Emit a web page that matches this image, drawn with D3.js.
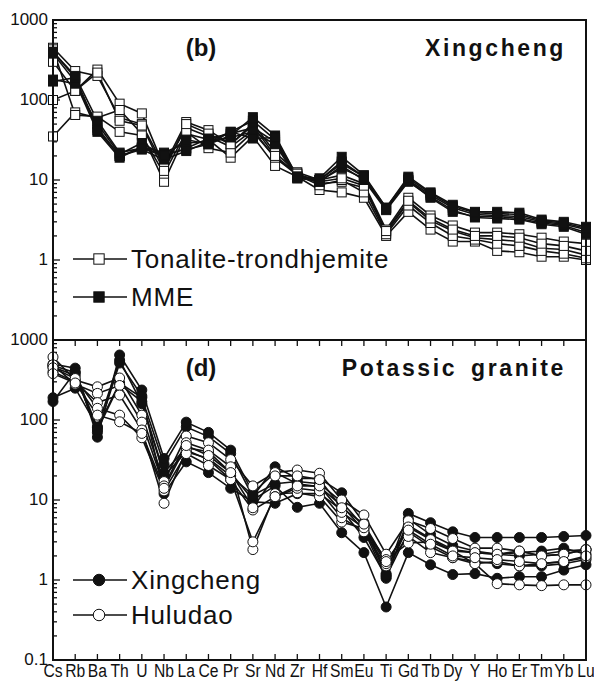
<!DOCTYPE html>
<html>
<head>
<meta charset="utf-8">
<script src="https://cdn.jsdelivr.net/npm/d3@7"></script>
<style>
  body { margin: 0; background: #fff; }
  text { font-family: "Liberation Sans", Arial, sans-serif; fill: #111; }
</style>
</head>
<body>
<svg id="chart" width="594" height="683"></svg>
<script>
var elements = ['Cs', 'Rb', 'Ba', 'Th', 'U', 'Nb', 'La', 'Ce', 'Pr', 'Sr', 'Nd', 'Zr', 'Hf',
    'Sm', 'Eu', 'Ti', 'Gd', 'Tb', 'Dy', 'Y', 'Ho', 'Er', 'Tm', 'Yb', 'Lu'];

// (b) Xingcheng - tonalite-trondhjemite (open squares)
var tonalite = [
    [450, 230, 200, 60, 50, 15, 53, 42, 28, 51, 22, 12.5, 10, 11.5, 9, 2.4, 6, 3.6, 2.7, 2.2, 2.2, 2.1, 1.9, 1.7, 1.6],
    [100, 130, 240, 90, 68, 14.6, 45, 35, 26, 42, 19, 12, 9, 9.5, 8, 2.2, 5.3, 3.1, 2.3, 1.9, 1.8, 1.7, 1.4, 1.35, 1.15],
    [35, 70, 60, 75, 38, 9.5, 38, 32, 19, 35, 15, 11, 7.5, 7, 6, 2.0, 4, 2.4, 1.7, 1.7, 1.3, 1.25, 1.1, 1.1, 1.0],
    [430, 65, 62, 40, 36, 12, 40, 25, 22, 40, 19, 11.5, 8.6, 10, 7, 2.1, 4.8, 2.9, 2.0, 1.8, 1.6, 1.5, 1.3, 1.2, 1.05],
    [300, 130, 220, 55, 48, 13, 50, 38, 28, 48, 20, 12, 9.5, 10.5, 8.5, 2.3, 5.5, 3.3, 2.4, 2.0, 2.0, 1.9, 1.6, 1.5, 1.3]
];
// (b) Xingcheng - MME (filled squares)
var mme = [
    [400, 190, 45, 20, 25, 21, 24, 28, 36, 61, 36, 11, 10.5, 19.5, 11.5, 4.5, 11, 7, 4.9, 4.0, 4.0, 3.9, 3.2, 3.0, 2.6],
    [380, 170, 40, 19, 26, 22, 29, 30, 40, 55, 32, 10.5, 10, 17, 11, 4.3, 10, 6.5, 4.5, 3.7, 3.6, 3.5, 3.0, 2.8, 2.4],
    [180, 160, 50, 21, 29, 20, 25, 33, 38, 45, 30, 11, 9.5, 15, 10, 4.2, 9.5, 6.2, 4.2, 3.4, 3.3, 3.2, 2.8, 2.6, 2.1],
    [170, 190, 42, 20, 24, 18, 23, 30, 34, 40, 28, 10.5, 9.8, 14, 10.5, 4.4, 9.8, 6.0, 4.0, 3.5, 3.5, 3.3, 2.9, 2.7, 2.2],
    [400, 200, 55, 22, 25, 20, 32, 28, 40, 33, 34, 11, 10, 16, 11, 4.5, 10.5, 6.8, 4.7, 3.9, 3.8, 3.7, 3.1, 2.9, 2.5]
];
// (d) Potassic granite - Xingcheng (filled circles)
var xingcheng = [
    [170, 400, 80, 290, 190, 28, 82, 62, 38, 11, 26, 18.6, 18.6, 12.3, 5.2, 1.2, 6.8, 5.2, 4.0, 3.4, 3.4, 3.4, 3.4, 3.5, 3.6],
    [500, 445, 61, 650, 237, 33, 94, 70, 42, 12.3, 22, 16, 14.6, 8.5, 4.2, 1.05, 5.8, 3.7, 2.7, 2.3, 2.1, 2.2, 2.3, 2.5, 2.1],
    [190, 250, 82, 560, 160, 22, 45, 40, 22, 10, 15, 8.1, 9.1, 3.9, 2.2, 0.46, 2.2, 1.55, 1.17, 1.2, 1.05, 1.1, 1.1, 1.33, 1.55],
    [480, 390, 70, 515, 200, 12, 30, 22, 14, 9.5, 9.1, 12, 12, 7.5, 3.4, 1.1, 4.0, 2.6, 1.9, 1.7, 1.6, 1.5, 1.5, 1.6, 1.8],
    [460, 360, 75, 280, 170, 20, 40, 33, 20, 11.5, 16, 17, 16, 9.5, 4.6, 1.15, 4.8, 3.3, 2.4, 2.2, 2.1, 2.0, 2.1, 2.3, 2.4]
];
// (d) Potassic granite - Huludao (open circles)
var huludao = [
    [612, 316, 260, 335, 115, 17, 63, 52, 32, 15, 22, 23.7, 21.6, 10, 6.5, 2.1, 5.5, 4.4, 3.3, 2.5, 2.5, 2.3, 2.0, 2.1, 2.4],
    [490, 280, 215, 270, 94, 15, 52, 42, 26, 2.4, 12, 12.3, 11, 5.3, 4.4, 1.8, 2.9, 3.0, 2.3, 1.6, 1.7, 1.5, 1.6, 1.7, 1.9],
    [400, 300, 165, 205, 75, 9.1, 42, 32, 18, 3.0, 11, 14, 13, 6, 4.0, 1.5, 3.5, 2.2, 1.9, 1.6, 0.9, 0.87, 0.85, 0.87, 0.87],
    [450, 330, 140, 115, 60, 13, 38, 27, 18, 7.5, 11, 15, 15, 7, 4.5, 1.6, 4.6, 3.2, 2.3, 2.2, 2.1, 2.3, 2.0, 2.1, 2.4],
    [380, 290, 115, 95, 68, 14, 48, 36, 22, 8, 20, 20, 18, 8, 5, 1.7, 4.2, 2.8, 2.0, 1.9, 1.8, 1.7, 1.6, 1.7, 2.0]
];

var topTicks = [1000, 100, 10, 1];
var bottomTicks = [1000, 100, 10, 1, 0.1];

var svg = d3.select('#chart');
var left = 53, right = 586;

var x = d3.scalePoint()
    .domain(elements)
    .range([left, right]);

function drawPanel(y0, y1, tickValues, groups, title, name, legend) {
    var y = d3.scaleLog().domain([0.1, 1000]).range([y1, y0]);
    var g = svg.append('g');

    // minor + major ticks on the left axis, pointing inward
    var minor = [];
    for (var e = -1; e < 3; e++) {
        for (var m = 1; m < 10; m++) minor.push(m * Math.pow(10, e));
    }
    minor.push(1000);
    g.selectAll('.ytick')
        .data(minor.filter(function (v) { return y(v) >= y0 - 0.1 && y(v) <= y1 + 0.1; }))
        .enter().append('line')
        .attr('x1', left)
        .attr('x2', function (v) {
            var lg = Math.log10(v);
            return left + (Math.abs(lg - Math.round(lg)) < 1e-6 ? 7 : 4);
        })
        .attr('y1', function (v) { return y(v); })
        .attr('y2', function (v) { return y(v); })
        .attr('stroke', '#111').attr('stroke-width', 1.3);

    g.selectAll('.ylab')
        .data(tickValues)
        .enter().append('text')
        .attr('x', left - 5)
        .attr('y', function (v) { return y(v) + 5; })
        .attr('text-anchor', 'end')
        .style('font-size', '17px')
        .text(function (v) { return v; });

    // series
    var line = d3.line()
        .x(function (d, i) { return x(elements[i]); })
        .y(function (d) { return y(d); });

    groups.forEach(function (grp) {
        grp.data.forEach(function (s) {
            g.append('path')
                .attr('d', line(s))
                .attr('fill', 'none')
                .attr('stroke', '#111')
                .attr('stroke-width', 1.6);
        });
    });
    groups.forEach(function (grp) {
        grp.data.forEach(function (s) {
            drawMarkers(g, s.map(function (d, i) { return [x(elements[i]), y(d)]; }), grp.shape, grp.filled);
        });
    });

    // frame
    g.append('rect')
        .attr('x', left).attr('y', y0)
        .attr('width', right - left).attr('height', y1 - y0)
        .attr('fill', 'none').attr('stroke', '#111').attr('stroke-width', 2);

    g.append('text')
        .attr('x', 201).attr('y', y0 + 36)
        .attr('text-anchor', 'middle')
        .style('font-size', '24px').style('font-weight', 'bold')
        .text(title);
    g.append('text')
        .attr('x', 566).attr('y', y0 + 36)
        .attr('text-anchor', 'end')
        .style('font-size', '23px').style('font-weight', 'bold')
        .style('letter-spacing', '2.6px')
        .style('word-spacing', '5px')
        .text(name);

    // legend
    legend.forEach(function (l) {
        g.append('line')
            .attr('x1', 73).attr('x2', 127)
            .attr('y1', l.y).attr('y2', l.y)
            .attr('stroke', '#111').attr('stroke-width', 1.6);
        drawMarkers(g, [[99, l.y]], l.shape, l.filled, 1.15);
        g.append('text')
            .attr('x', 131).attr('y', l.y + 9)
            .style('font-size', '26px')
            .style('letter-spacing', '0.8px')
            .text(l.label);
    });
    return g;
}

function drawMarkers(g, pts, shape, filled, k) {
    k = k || 1;
    if (shape === 'square') {
        var s = 9 * k;
        g.selectAll(null).data(pts).enter().append('rect')
            .attr('x', function (p) { return p[0] - s / 2; })
            .attr('y', function (p) { return p[1] - s / 2; })
            .attr('width', s).attr('height', s)
            .attr('fill', filled ? '#111' : '#fff')
            .attr('stroke', '#111').attr('stroke-width', 1);
    } else {
        g.selectAll(null).data(pts).enter().append('circle')
            .attr('cx', function (p) { return p[0]; })
            .attr('cy', function (p) { return p[1]; })
            .attr('r', 5 * k)
            .attr('fill', filled ? '#111' : '#fff')
            .attr('stroke', '#111').attr('stroke-width', 1);
    }
}

drawPanel(20, 340, topTicks,
    [{ data: tonalite, shape: 'square', filled: false }, { data: mme, shape: 'square', filled: true }],
    '(b)', 'Xingcheng',
    [{ y: 259, label: 'Tonalite-trondhjemite', shape: 'square', filled: false },
     { y: 297, label: 'MME', shape: 'square', filled: true }]);

drawPanel(340, 660, bottomTicks,
    [{ data: xingcheng, shape: 'circle', filled: true }, { data: huludao, shape: 'circle', filled: false }],
    '(d)', 'Potassic granite',
    [{ y: 580, label: 'Xingcheng', shape: 'circle', filled: true },
     { y: 615, label: 'Huludao', shape: 'circle', filled: false }]);

// x ticks on the shared border and on the bottom axis (inward)
svg.append('g').selectAll('line')
    .data(elements.slice(1, -1))
    .enter().append('line')
    .attr('x1', function (d) { return x(d); }).attr('x2', function (d) { return x(d); })
    .attr('y1', 340).attr('y2', 346)
    .attr('stroke', '#111').attr('stroke-width', 1.3);
svg.append('g').selectAll('line')
    .data(elements.slice(1, -1))
    .enter().append('line')
    .attr('x1', function (d) { return x(d); }).attr('x2', function (d) { return x(d); })
    .attr('y1', 660).attr('y2', 654)
    .attr('stroke', '#111').attr('stroke-width', 1.3);

// condensed element labels
svg.append('g').selectAll('text')
    .data(elements)
    .enter().append('text')
    .attr('transform', function (d) { return 'translate(' + x(d) + ',677) scale(0.87,1)'; })
    .attr('text-anchor', 'middle')
    .style('font-size', '18px')
    .text(function (d) { return d; });
</script>
</body>
</html>
